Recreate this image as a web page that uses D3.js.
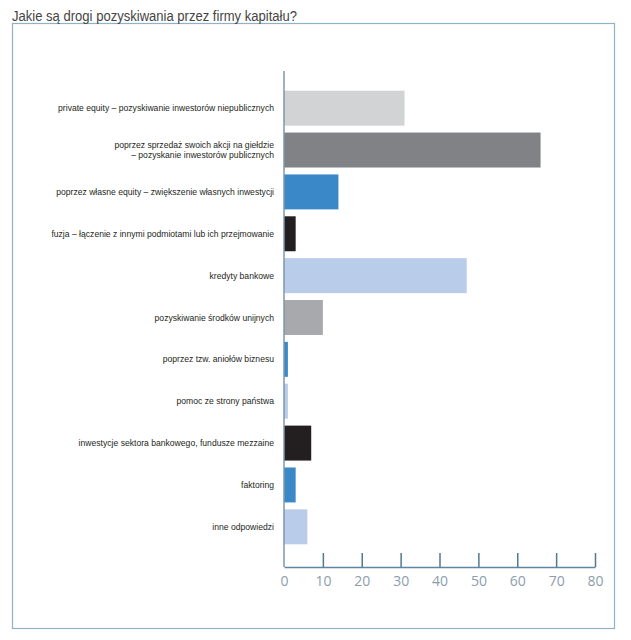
<!DOCTYPE html>
<html>
<head>
<meta charset="utf-8">
<script src="https://cdn.jsdelivr.net/npm/d3@7"></script>
<style>
  body { margin: 0; background: #fff; }
  svg { display: block; }
</style>
</head>
<body>
<div id="chart"></div>
<script>
// data
var title = 'Jakie są drogi pozyskiwania przez firmy kapitału?';

var categories = [
	['private equity – pozyskiwanie inwestorów niepublicznych'],
	['poprzez sprzedaż swoich akcji na giełdzie', '– pozyskanie inwestorów publicznych'],
	['poprzez własne equity – zwiększenie własnych inwestycji'],
	['fuzja – łączenie z innymi podmiotami lub ich przejmowanie'],
	['kredyty bankowe'],
	['pozyskiwanie środków unijnych'],
	['poprzez tzw. aniołów biznesu'],
	['pomoc ze strony państwa'],
	['inwestycje sektora bankowego, fundusze mezzaine'],
	['faktoring'],
	['inne odpowiedzi']
];
var values = [31, 66, 14, 3, 47, 10, 1, 1, 7, 3, 6];
var ticks = [0, 10, 20, 30, 40, 50, 60, 70, 80];

// colours, one per bar
var palette = ['#d1d3d4', '#808285', '#3b88c9', '#231f20', '#b9cce9', '#a7a9ac',
	'#3b88c9', '#b9cce9', '#231f20', '#3b88c9', '#b9cce9'];

var width = 631, height = 640;

var svg = d3.select('#chart').append('svg')
	.attr('width', width)
	.attr('height', height);

// frame + title
svg.append('rect')
	.attr('x', 12.5).attr('y', 23.5)
	.attr('width', 602).attr('height', 605)
	.attr('fill', 'none')
	.attr('stroke', '#8fb2c5')
	.attr('stroke-width', 1.2);

svg.append('text')
	.attr('x', 12).attr('y', 20.5)
	.attr('font-family', 'Liberation Sans, Arial, sans-serif')
	.attr('font-size', 14)
	.attr('fill', '#444')
	.attr('textLength', 285)
	.attr('lengthAdjust', 'spacingAndGlyphs')
	.text(title);

var keys = categories.map(function(d, i) { return i; });

var x = d3.scaleLinear().domain([0, 80]).range([284, 595]);
var y = d3.scaleBand().domain(keys).range([90.7, 544.3]).paddingInner(0.165);
var color = d3.scaleOrdinal().domain(keys).range(palette);

// bars
svg.append('g').selectAll('rect')
	.data(values)
	.enter().append('rect')
	  .attr('x', x(0))
	  .attr('y', function(d, i) { return y(i); })
	  .attr('width', function(d) { return x(d) - x(0); })
	  .attr('height', y.bandwidth())
	  .attr('fill', function(d, i) { return color(i); });

// category labels
var labels = svg.append('g')
	.attr('font-family', 'Liberation Sans, Arial, sans-serif')
	.attr('font-size', 8.6)
	.attr('fill', '#231f20')
	.attr('text-anchor', 'end');

categories.forEach(function(lines, i) {
	var cy = y(i) + y.bandwidth() / 2;
	var lh = 10.7;
	var t = labels.append('text')
		.attr('y', cy - (lines.length - 1) * lh / 2);
	lines.forEach(function(l, j) {
		t.append('tspan')
			.attr('x', 274)
			.attr('dy', j === 0 ? '0.35em' : lh)
			.text(l);
	});
});

// vertical axis line
svg.append('line')
	.attr('x1', x(0)).attr('x2', x(0))
	.attr('y1', 71).attr('y2', 567)
	.attr('stroke', '#7c98ab')
	.attr('stroke-width', 1.5);

// x axis
var xAxis = d3.axisBottom(x)
	.tickValues(ticks)
	.tickSize(0)
	.tickPadding(9);

var ax = svg.append('g')
	.attr('transform', 'translate(0,567)')
	.call(xAxis);

ax.select('.domain')
	.attr('stroke', '#5f86a0')
	.attr('stroke-width', 1.5);

ax.selectAll('.tick line')
	.attr('y2', -14)
	.attr('stroke', '#4f7893')
	.attr('stroke-width', 1.5)
	.filter(function(d) { return d === 0; }).remove();

ax.selectAll('.tick text')
	.attr('font-family', 'Open Sans, Liberation Sans, sans-serif')
	.attr('font-size', 14)
	.attr('fill', '#8d9dad');
</script>
</body>
</html>
